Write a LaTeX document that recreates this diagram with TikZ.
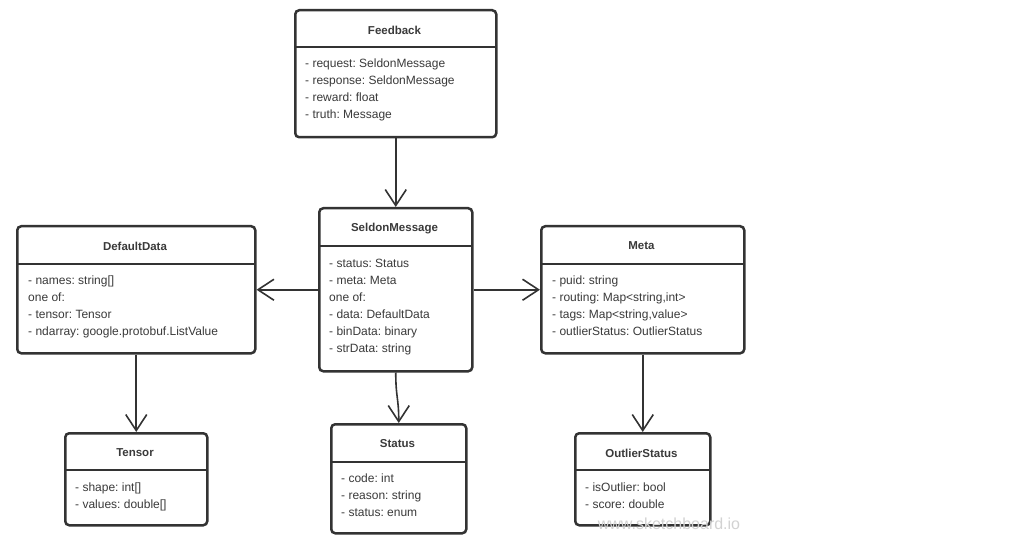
\documentclass[tikz,border=0pt]{standalone}
\usepackage{fontspec}
\setmainfont{Liberation Sans}
\usetikzlibrary{arrows.meta,calc}
\frenchspacing

\definecolor{inkgray}{HTML}{333333}
\definecolor{textgray}{HTML}{3A3A3A}

\tikzset{
    classbox/.style={draw=inkgray, line width=2.5pt, rounded corners=4pt, fill=white, anchor=north west, inner sep=0pt},
    classtitle/.style={font=\bfseries\fontsize{11.5}{13}\selectfont, text=textgray, inner sep=1pt},
    member/.style={anchor=base west, font=\fontsize{12}{14}\selectfont, text=textgray, inner sep=0pt},
    sepline/.style={draw=inkgray, line width=2pt},
    assoc/.style={draw=inkgray, line width=1.6pt, -{Straight Barb[length=16pt,width=21pt,line width=1.6pt]}}
}

\begin{document}
\begin{tikzpicture}[x=1pt, y=-1pt]
    \useasboundingbox (0,0) rectangle (1024,545);

    % Feedback
    \node[classbox, minimum width=201pt, minimum height=127pt] (feedback) at (294,9) {};
    \node[classtitle] (feedback-title) at (394.5,30) {Feedback};
    \draw[sepline] (294,47) -- (495,47);
    \foreach \i/\txt in {0/{- request: SeldonMessage}, 1/{- response: SeldonMessage},
                         2/{- reward: float}, 3/{- truth: Message}} {
        \node[member] (feedback-\i) at (305, 68+17*\i) {\txt};
    }

    % SeldonMessage
    \node[classbox, minimum width=153pt, minimum height=163pt] (smsg) at (318,207) {};
    \node[classtitle] (smsg-title) at (394.5,229) {SeldonMessage};
    \draw[sepline] (318,246) -- (471,246);
    \foreach \i/\txt in {0/{- status: Status}, 1/{- meta: Meta}, 2/{one of:},
                         3/{- data: DefaultData}, 4/{- binData: binary}, 5/{- strData: string}} {
        \node[member] (smsg-\i) at (329, 267+17*\i) {\txt};
    }

    % DefaultData
    \node[classbox, minimum width=238pt, minimum height=127pt] (ddata) at (16,225) {};
    \node[classtitle] (ddata-title) at (135,246) {DefaultData};
    \draw[sepline] (16,264) -- (254,264);
    \foreach \i/\txt in {0/{- names: string[]}, 1/{one of:}, 2/{- tensor: Tensor},
                         3/{- ndarray: google.protobuf.ListValue}} {
        \node[member] (ddata-\i) at (28, 284+17*\i) {\txt};
    }

    % Meta
    \node[classbox, minimum width=203pt, minimum height=127pt] (meta) at (540,225) {};
    \node[classtitle] (meta-title) at (641.5,246) {Meta};
    \draw[sepline] (540,264) -- (743,264);
    \foreach \i/\txt in {0/{- puid: string}, 1/{- routing: Map<string,int>},
                         2/{- tags: Map<string,value>}, 3/{- outlierStatus: OutlierStatus}} {
        \node[member] (meta-\i) at (552, 284+17*\i) {\txt};
    }

    % Tensor
    \node[classbox, minimum width=142pt, minimum height=92pt] (tensor) at (64,432) {};
    \node[classtitle] (tensor-title) at (135,453) {Tensor};
    \draw[sepline] (64,470) -- (206,470);
    \foreach \i/\txt in {0/{- shape: int[]}, 1/{- values: double[]}} {
        \node[member] (tensor-\i) at (75, 491+17*\i) {\txt};
    }

    % Status
    \node[classbox, minimum width=135pt, minimum height=109pt] (status) at (330,423) {};
    \node[classtitle] (status-title) at (397.5,444) {Status};
    \draw[sepline] (330,462) -- (465,462);
    \foreach \i/\txt in {0/{- code: int}, 1/{- reason: string}, 2/{- status: enum}} {
        \node[member] (status-\i) at (341, 482+17*\i) {\txt};
    }

    % OutlierStatus
    \node[classbox, minimum width=135pt, minimum height=92pt] (outlier) at (574,432) {};
    \node[classtitle] (outlier-title) at (641.5,453) {OutlierStatus};
    \draw[sepline] (574,470) -- (709,470);
    \foreach \i/\txt in {0/{- isOutlier: bool}, 1/{- score: double}} {
        \node[member] (outlier-\i) at (585, 491+17*\i) {\txt};
    }

    % Associations
    \draw[assoc] (feedback.south) -- (smsg.north);
    \draw[assoc] (smsg.west) -- (ddata.east);
    \draw[assoc] (smsg.east) -- (meta.west);
    \draw[assoc] (smsg.south) .. controls +(0,25) and +(0,-25) .. (status.north);
    \draw[assoc] (ddata.south) -- (tensor.north);
    \draw[assoc] (meta.south) -- (outlier.north);

    % Watermark
    \node[font=\fontsize{16}{18}\selectfont, text=gray!35, inner sep=0pt] (mark) at (669,524) {www.sketchboard.io};
\end{tikzpicture}
\end{document}
